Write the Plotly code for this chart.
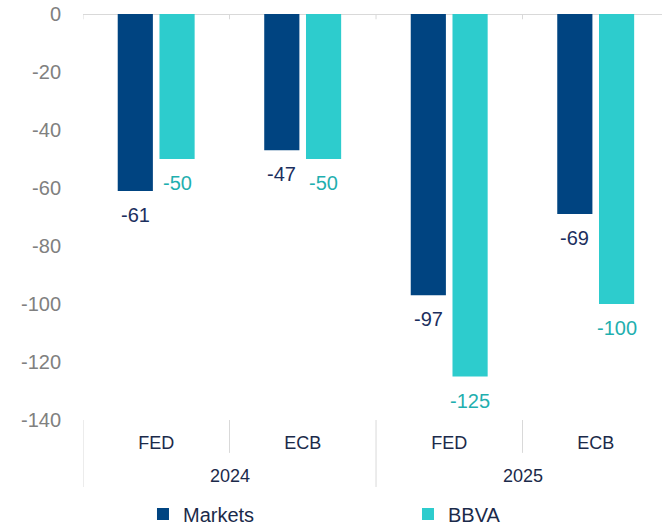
import plotly.graph_objects as go

years = ["2024", "2024", "2025", "2025"]
banks = ["FED", "ECB", "FED", "ECB"]
markets = [-61, -47, -97, -69]
bbva = [-50, -50, -125, -100]
y_ticks = [0, -20, -40, -60, -80, -100, -120, -140]
y_tick_labels = ["0", "-20", "-40", "-60", "-80", "-100", "-120", "-140"]

NAVY = "#004481"
TEAL = "#2DCCCD"
NAVY_TXT = "#1C2F5E"
TEAL_TXT = "#1FAFAF"
CAT_TXT = "#1B2A4A"
GRID = "#D9D9D9"

idx = list(range(len(banks)))
BAR_W = 0.24
OFF_M = -0.263
OFF_B = 0.022

fig = go.Figure()
fig.add_trace(go.Bar(
    name="Markets", x=idx, y=markets, marker_color=NAVY,
    width=BAR_W, offset=OFF_M, marker_line_width=0, legend="legend",
))
fig.add_trace(go.Bar(
    name="BBVA", x=idx, y=bbva, marker_color=TEAL,
    width=BAR_W, offset=OFF_B, marker_line_width=0, legend="legend2",
))

# data labels below bar ends
for vals, off, col in [(markets, OFF_M, NAVY_TXT), (bbva, OFF_B, TEAL_TXT)]:
    for i, v in zip(idx, vals):
        fig.add_annotation(
            x=i + off + BAR_W / 2, y=v, xref="x", yref="y",
            text=str(v), showarrow=False, yanchor="top", yshift=-11,
            font=dict(size=20, color=col), xanchor="center",
        )

# year (outer-level) labels
for yr in sorted(set(years)):
    pos = [i for i, y in zip(idx, years) if y == yr]
    fig.add_annotation(
        x=sum(pos) / len(pos), y=-0.138, xref="x", yref="paper",
        text=yr, showarrow=False, yanchor="middle",
        font=dict(size=18, color=CAT_TXT),
    )

# dividers: outer between years, inner between banks
for k in range(len(idx) + 1):
    b = k - 0.5
    outer = k == 0 or k == len(idx) or years[k] != years[k - 1]
    fig.add_shape(type="line", xref="x", yref="paper", x0=b, x1=b,
                  y0=0, y1=-0.165 if outer else -0.081,
                  line=dict(color=GRID, width=1))
    fig.add_shape(type="line", xref="x", yref="paper", x0=b, x1=b,
                  y0=1, y1=1 - 0.013, line=dict(color=GRID, width=1))

legend_common = dict(orientation="h", xanchor="left", xref="container",
                     y=0.021, yref="container", yanchor="middle",
                     font=dict(size=20, color=CAT_TXT), itemwidth=30,
                     bgcolor="rgba(0,0,0,0)")

fig.update_layout(
    width=662, height=525,
    margin=dict(l=83, r=0, t=14, b=105),
    plot_bgcolor="white", paper_bgcolor="white",
    font=dict(family="Liberation Sans, Arial, sans-serif"),
    showlegend=True,
    legend=dict(x=0.216, **legend_common),
    legend2=dict(x=0.6163, **legend_common),
)
fig.update_yaxes(
    range=[-140, 0], tickvals=y_ticks, ticktext=y_tick_labels,
    showgrid=False, zeroline=True, zerolinecolor=GRID, zerolinewidth=1,
    tickfont=dict(size=20, color="#808080"), ticks="", automargin=False,
    ticklabelstandoff=21, ticklabeloverflow="allow",
)
fig.update_xaxes(
    range=[-0.5, 3.452], tickvals=idx, ticktext=banks,
    showgrid=False, showline=False, zeroline=False, ticks="",
    tickfont=dict(size=18, color=CAT_TXT), automargin=False,
    ticklabelstandoff=10,
)
fig.write_html("out.html", config={"displayModeBar": False},
               post_script="document.body.style.margin='0';")
